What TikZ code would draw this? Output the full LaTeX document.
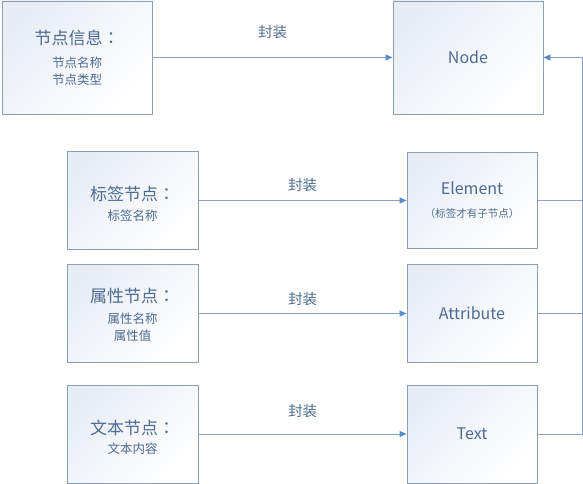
\documentclass[tikz,border=0pt]{standalone}
\usepackage{fontspec}
\usepackage{tikz}
\usetikzlibrary{positioning}
\usetikzlibrary{arrows.meta}
\newfontfamily\cjk{Noto Sans CJK SC}
\newfontfamily\cjktc{Noto Sans CJK TC}
\definecolor{boxline}{HTML}{8C9FB7}
\definecolor{boxfill}{HTML}{E8EDF5}
\definecolor{txtblue}{HTML}{4D6B92}
\definecolor{linkline}{HTML}{8AA3C4}
\definecolor{tipblue}{HTML}{5A8CCB}
\newcommand{\bigtxt}{\fontsize{17}{20}\selectfont}
\newcommand{\midtxt}{\fontsize{16}{20}\selectfont}
\newcommand{\smalltxt}{\fontsize{12.5}{17}\selectfont}
\newcommand{\tinytxt}{\fontsize{10.5}{14}\selectfont}
\newcommand{\fwcolon}{{\cjktc ：}}
\newcommand{\lift}[1]{\rule{0pt}{#1}}

\begin{document}
\begin{tikzpicture}[x=1pt,y=-1pt,
  infobox/.style={draw=boxline, line width=0.9pt, top color=boxfill, bottom color=white, shading angle=45,
    minimum width=131pt, minimum height=98pt, align=center, text=txtblue, font=\cjk\smalltxt, inner sep=0pt},
  classbox/.style={infobox, minimum width=130pt},
  conn/.style={draw=linkline, line width=0.9pt, -{Triangle[length=7pt,width=6pt,color=tipblue]}},
  rail/.style={draw=linkline, line width=0.9pt},
  lbl/.style={text=txtblue, font=\cjk\fontsize{14.5}{16}\selectfont}]

\useasboundingbox (0,0) rectangle (583,484);

% left column: the raw information
\node[infobox, minimum width=150pt, minimum height=113pt] (info) at (77,57.5)
  {\bigtxt 节点信息\fwcolon\\[6pt] \smalltxt 节点名称\\ \smalltxt 节点类型};
\node[infobox] (tag)  at (132.5,200.5) {\bigtxt\lift{22pt}标签节点\fwcolon\\[3pt] \smalltxt 标签名称};
\node[infobox] (attrinfo) at (132.5,313.5) {\bigtxt\lift{18pt}属性节点\fwcolon\\[4pt] \smalltxt 属性名称\\ \smalltxt 属性值};
\node[infobox] (textinfo) at (132.5,434) {\bigtxt\lift{22pt}文本节点\fwcolon\\[2pt] \smalltxt 文本内容};

% right column: the classes
\node[classbox, minimum width=150pt, minimum height=113pt] (node) at (468,57.5) {\midtxt Node};
\node[classbox, minimum height=96pt] (elem) at (472,200) {\midtxt Element\\[6pt] \tinytxt （标签才有子节点）};
\node[classbox] (attr) at (472,313) {\midtxt Attribute};
\node[classbox] (text) at (472,434) {\midtxt Text};

% wrapping arrows
\draw[conn] (info.east) -- (node.west |- info.east) node[lbl, midway, above=15pt] {封装};
\draw[conn] (tag.east) -- (elem.west |- tag.east) node[lbl, midway, above=5pt] {封装};
\draw[conn] (attrinfo.east) -- (attr.west |- attrinfo.east) node[lbl, midway, above=4pt] {封装};
\draw[conn] (textinfo.east) -- (text.west |- textinfo.east) node[lbl, midway, above=12pt] {封装};

% inheritance back to Node
\coordinate (railx) at (582,0);
\draw[rail] (elem.east) -- (elem.east -| railx);
\draw[rail] (attr.east) -- (attr.east -| railx);
\draw[conn] (text.east) -- (text.east -| railx) |- (node.east);

\end{tikzpicture}
\end{document}
